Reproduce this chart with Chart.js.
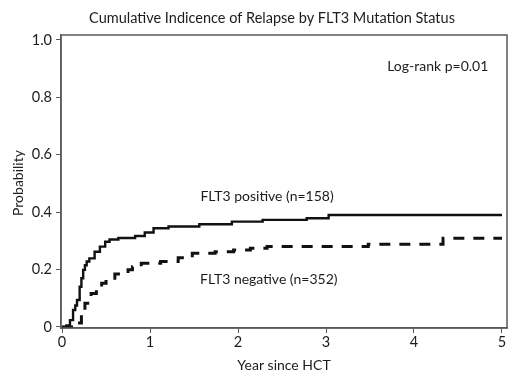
<!DOCTYPE html>
<html>
<head>
    <meta charset="utf-8" />
    <title>Cumulative Incidence of Relapse</title>
    <script src="https://cdn.jsdelivr.net/npm/chart.js"></script>
    <style>
        body { margin: 0; background: #fff; }
        #wrap { width: 520px; height: 378px; }
    </style>
</head>
<body>
<div id="wrap"><canvas id="myChart" width="520" height="378"></canvas></div>
<script>
    // FLT3 positive (solid) - step points
    const posTime = [0, 0.05, 0.09, 0.125, 0.15, 0.17, 0.20, 0.22, 0.24, 0.26, 0.28, 0.31, 0.37, 0.43, 0.49, 0.54, 0.64, 0.83, 0.94, 1.04, 1.21, 1.56, 1.93, 2.28, 2.78, 3.03, 5.0];
    const posProb = [0, 0.005, 0.024, 0.059, 0.075, 0.094, 0.14, 0.17, 0.199, 0.215, 0.228, 0.239, 0.262, 0.28, 0.297, 0.305, 0.31, 0.317, 0.329, 0.344, 0.35, 0.358, 0.367, 0.373, 0.379, 0.39, 0.39];

    // FLT3 negative (dashed)
    const negTime = [0, 0.17, 0.18, 0.22, 0.26, 0.33, 0.39, 0.45, 0.50, 0.60, 0.75, 0.80, 0.90, 1.12, 1.32, 1.48, 1.74, 1.95, 2.14, 2.33, 3.48, 4.33, 5.0];
    const negProb = [0, 0.005, 0.014, 0.048, 0.083, 0.117, 0.129, 0.152, 0.164, 0.185, 0.199, 0.21, 0.222, 0.228, 0.241, 0.257, 0.262, 0.268, 0.274, 0.28, 0.288, 0.309, 0.309];

    const xTicks = [0, 1, 2, 3, 4, 5];
    const yTicks = [0, 0.2, 0.4, 0.6, 0.8, 1.0];
    const yTickLabels = ['0', '0.2', '0.4', '0.6', '0.8', '1.0'];

    const chartTitle = 'Cumulative Indicence of Relapse by FLT3 Mutation Status';
    const xTitle = 'Year since HCT';
    const yTitle = 'Probability';
    // text notes placed in data units
    const notes = [
        { text: 'Log-rank p=0.01', x: 4.27, y: 0.909 },
        { text: 'FLT3 positive (n=158)', x: 2.33, y: 0.453 },
        { text: 'FLT3 negative (n=352)', x: 2.35, y: 0.164 }
    ];

    const font = 'Lato, "Open Sans", sans-serif';
    const ink = '#1e1b1c';
    const axisGray = '#595959';

    function toPoints(xs, ys) {
        return xs.map((t, i) => ({ x: t, y: ys[i] }));
    }

    const framePlugin = {
        id: 'frameAndText',
        afterDraw(chart) {
            const ctx = chart.ctx;
            const a = chart.chartArea;
            const xs = chart.scales.x, ys = chart.scales.y;
            ctx.save();
            ctx.strokeStyle = axisGray;
            ctx.lineWidth = 1.5;
            ctx.strokeRect(a.left, a.top, a.right - a.left, a.bottom - a.top);

            ctx.fillStyle = ink;
            ctx.textAlign = 'center';
            ctx.textBaseline = 'middle';
            ctx.font = '14.5px ' + font;
            ctx.fillText(chartTitle, 272, 18);

            ctx.font = '14px ' + font;
            ctx.fillText(xTitle, (a.left + a.right) / 2, 365);
            notes.forEach(n => {
                ctx.fillText(n.text, xs.getPixelForValue(n.x), ys.getPixelForValue(n.y));
            });

            ctx.translate(18, 183);
            ctx.rotate(-Math.PI / 2);
            ctx.fillText(yTitle, 0, 0);
            ctx.restore();
        }
    };

    const config = {
        type: 'line',
        data: {
            datasets: [{
                label: 'FLT3 positive',
                data: toPoints(posTime, posProb),
                borderColor: '#111',
                borderWidth: 2.4,
                pointRadius: 0,
                stepped: true,
                fill: false
            }, {
                label: 'FLT3 negative',
                data: toPoints(negTime, negProb),
                borderColor: '#111',
                borderWidth: 3,
                borderDash: [11, 9],
                pointRadius: 0,
                stepped: true,
                fill: false
            }]
        },
        options: {
            responsive: false,
            animation: false,
            layout: { padding: { top: 35, right: 13, left: 0, bottom: 0 } },
            plugins: {
                legend: { display: false },
                tooltip: { enabled: false },
                title: { display: false }
            },
            scales: {
                x: {
                    type: 'linear',
                    min: -0.012,
                    max: 5.057,
                    afterBuildTicks: s => { s.ticks = xTicks.map(v => ({ value: v })); },
                    afterFit: s => { s.height = 50; },
                    grid: { drawOnChartArea: false, drawTicks: true, tickLength: 5, color: axisGray },
                    border: { display: true, color: axisGray, width: 1.5 },
                    ticks: {
                        padding: 1,
                        color: ink,
                        font: { family: font, size: 14.5 },
                        maxRotation: 0,
                        callback: v => String(v)
                    }
                },
                y: {
                    type: 'linear',
                    min: -0.0035,
                    max: 1.017,
                    afterBuildTicks: s => { s.ticks = yTicks.map(v => ({ value: v })); },
                    afterFit: s => { s.width = 61; },
                    grid: { drawOnChartArea: false, drawTicks: true, tickLength: 5, color: axisGray },
                    border: { display: true, color: axisGray, width: 1.5 },
                    ticks: {
                        padding: 4,
                        color: ink,
                        font: { family: font, size: 14.5 },
                        callback: v => yTickLabels[yTicks.indexOf(v)]
                    }
                }
            }
        },
        plugins: [framePlugin]
    };

    const myChart = new Chart(document.getElementById('myChart'), config);
</script>
</body>
</html>
